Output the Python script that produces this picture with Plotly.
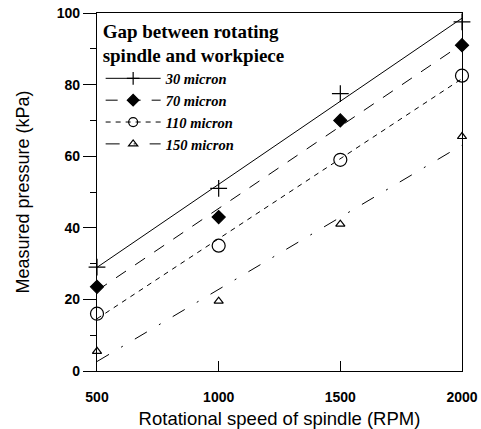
import numpy as np
import plotly.graph_objects as go

rpm = [500, 1000, 1500, 2000]
gap_labels = ["30 micron", "70 micron", "110 micron", "150 micron"]
p30 = [29, 51, 77.5, 97.5]
p70 = [23.5, 43, 70, 91]
p110 = [16, 35, 59, 82.5]
p150 = [5.5, 19.5, 41, 65.5]
series = [p30, p70, p110, p150]
x_ticks = ["500", "1000", "1500", "2000"]
y_ticks = [0, 20, 40, 60, 80, 100]

dashes = ["solid", "12px,11px", "5px,5px", "14px,14px,2px,14px"]
symbols = ["cross-thin", "diamond", "circle-open", "triangle-up-open"]
sizes = [12, 10, 13, 8]

fig = go.Figure()
for lab, vals, dsh, sym, sz in zip(gap_labels, series, dashes, symbols, sizes):
    k, b = np.polyfit(rpm, vals, 1)
    xs = np.array([rpm[0], rpm[-1]])
    fig.add_trace(go.Scatter(x=xs, y=k * xs + b, mode="lines",
                             line=dict(color="black", width=1, dash=dsh),
                             legendgroup=lab, showlegend=False, hoverinfo="skip"))
    fig.add_trace(go.Scatter(x=rpm, y=vals, mode="markers",
                             marker=dict(symbol=sym, size=sz, color="black",
                                         line=dict(color="black", width=1.2)),
                             legendgroup=lab, showlegend=False, cliponaxis=False))
    fig.add_trace(go.Scatter(x=[None], y=[None], mode="lines+markers",
                             name="<b><i>" + lab + "</i></b>",
                             line=dict(color="black", width=1, dash=dsh),
                             marker=dict(symbol=sym, size=min(sz, 9), color="black",
                                         line=dict(color="black", width=1.2)),
                             legendgroup=lab))

fig.update_layout(
    width=481, height=429,
    margin=dict(l=97, r=19, t=13, b=58, autoexpand=False),
    paper_bgcolor="white", plot_bgcolor="white",
    showlegend=True,
    legend=dict(
        x=0.01, y=1.0, xanchor="left", yanchor="top",
        bgcolor="rgba(0,0,0,0)",
        title=dict(text="<b>Gap between rotating<br>spindle and workpiece</b>",
                   font=dict(family="Liberation Serif", size=19, color="black")),
        font=dict(family="Liberation Serif", size=14.5, color="black"),
        itemwidth=55, tracegroupgap=0,
    ),
    xaxis=dict(
        range=[500, 2000], tickvals=rpm, ticktext=["<b>" + t + "</b>" for t in x_ticks],
        showgrid=False, zeroline=False, showline=True, linecolor="black", linewidth=1.2,
        mirror=True, ticks="inside", ticklen=10, tickcolor="black",
        ticklabelstandoff=13, automargin=False,
        tickfont=dict(family="Liberation Sans", size=14, color="black"),
        title=dict(text="Rotational speed of spindle (RPM)", standoff=9,
                   font=dict(family="Liberation Sans", size=18.5, color="black")),
    ),
    yaxis=dict(
        range=[0, 100], tickvals=y_ticks, ticktext=["<b>%d</b>" % v for v in y_ticks],
        showgrid=False, zeroline=False, showline=True, linecolor="black", linewidth=1.2,
        mirror=True, ticks="outside", ticklen=13, tickcolor="black", automargin=False,
        minor=dict(tickvals=[10, 30, 50, 70, 90], ticks="outside", ticklen=6, tickcolor="black"),
        tickfont=dict(family="Liberation Sans", size=14, color="black"),
        title=dict(text="Measured pressure (kPa)", standoff=22,
                   font=dict(family="Liberation Sans", size=18, color="black")),
    ),
)

fig.write_html("out.html")
